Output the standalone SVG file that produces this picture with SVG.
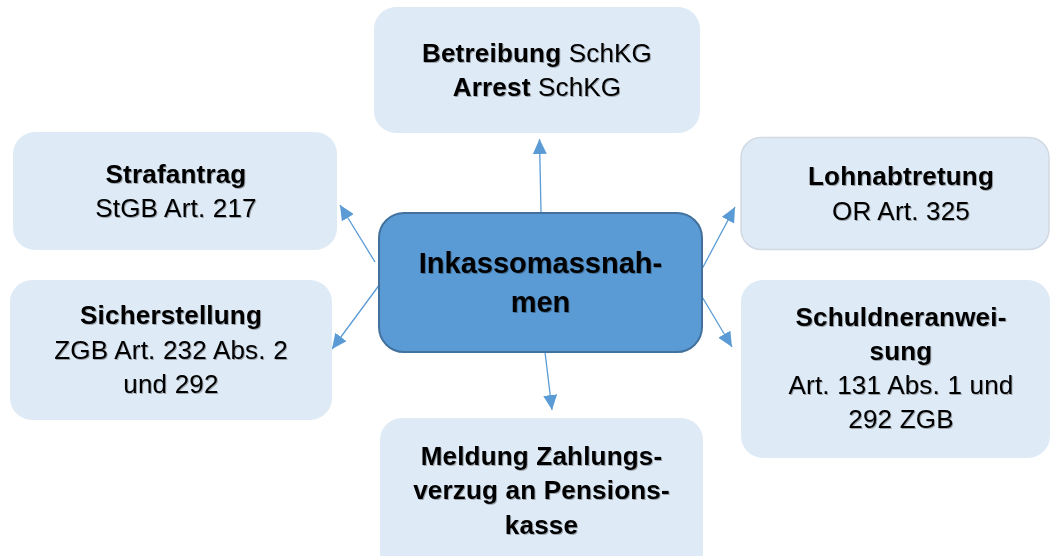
<svg xmlns="http://www.w3.org/2000/svg" width="1050" height="556" viewBox="0 0 1050 556">
<style>
.box{fill:#DEEAF6;stroke:none}
.boxb{fill:#DEEAF6;stroke:#D2D9E2;stroke-width:1.5}
.t{font-family:"Liberation Sans",Arial,sans-serif;font-size:26px;letter-spacing:0.2px;fill:#000;text-anchor:middle;filter:url(#sh)}
.b{font-weight:bold}
.c{font-family:"Liberation Sans",Arial,sans-serif;font-size:29px;font-weight:bold;fill:#000;text-anchor:middle;filter:url(#sh)}
.ln{stroke:#5B9BD5;stroke-width:1.3;fill:none;marker-end:url(#ah)}
</style>
<defs>
<filter id="sh" x="-5%" y="-20%" width="110%" height="140%">
<feDropShadow dx="1" dy="1" stdDeviation="0.7" flood-color="#000" flood-opacity="0.3"/>
</filter>
<marker id="ah" viewBox="0 0 15 14" refX="15" refY="7" markerWidth="15" markerHeight="14" markerUnits="userSpaceOnUse" orient="auto">
<path d="M0,0 L15,7 L0,14 Z" fill="#5B9BD5"/>
</marker>
</defs>
<rect width="1050" height="556" fill="#FFFFFF"/>
<g id="connectors">
<line class="ln" x1="541" y1="212" x2="539.5" y2="139"/>
<line class="ln" x1="375" y1="262" x2="340" y2="205"/>
<line class="ln" x1="380" y1="284" x2="332" y2="349"/>
<line class="ln" x1="545" y1="352" x2="552" y2="410"/>
<line class="ln" x1="702" y1="269" x2="735" y2="207"/>
<line class="ln" x1="701" y1="295" x2="732" y2="347"/>
</g>
<g id="n-betreibung">
<rect class="box" x="374" y="7" width="326" height="126" rx="22"/>
<text class="t" x="537" y="62"><tspan class="b">Betreibung</tspan> SchKG</text>
<text class="t" x="537" y="96"><tspan class="b">Arrest</tspan> SchKG</text>
</g>
<g id="n-strafantrag">
<rect class="box" x="13" y="132" width="324" height="118" rx="22"/>
<text class="t b" x="176" y="183">Strafantrag</text>
<text class="t" x="176" y="217">StGB Art. 217</text>
</g>
<g id="n-sicherstellung">
<rect class="box" x="10" y="280" width="322" height="140" rx="22"/>
<text class="t b" x="171" y="324">Sicherstellung</text>
<text class="t" x="171" y="359">ZGB Art. 232 Abs. 2</text>
<text class="t" x="171" y="393">und 292</text>
</g>
<g id="n-lohnabtretung">
<rect class="boxb" x="741" y="137.5" width="308" height="112" rx="20"/>
<text class="t b" x="901" y="185">Lohnabtretung</text>
<text class="t" x="901" y="220">OR Art. 325</text>
</g>
<g id="n-schuldneranweisung">
<rect class="box" x="741" y="280" width="309" height="178" rx="22"/>
<text class="t b" x="901" y="326">Schuldneranwei-</text>
<text class="t b" x="901" y="360">sung</text>
<text class="t" x="901" y="394">Art. 131 Abs. 1 und</text>
<text class="t" x="901" y="428">292 ZGB</text>
</g>
<g id="n-meldung">
<rect class="box" x="380" y="418" width="323" height="160" rx="22"/>
<text class="t b" x="541.5" y="465">Meldung Zahlungs-</text>
<text class="t b" x="541.5" y="499">verzug an Pensions-</text>
<text class="t b" x="541.5" y="534">kasse</text>
</g>
<g id="n-inkasso">
<rect x="379" y="213" width="323" height="139" rx="25" fill="#5B9BD5" stroke="#41719C" stroke-width="2"/>
<text class="c" x="540.5" y="273">Inkassomassnah-</text>
<text class="c" x="540.5" y="312">men</text>
</g>
</svg>
